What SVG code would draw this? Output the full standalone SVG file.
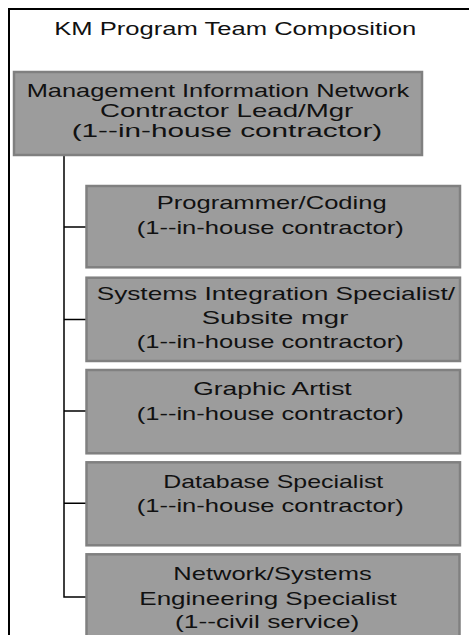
<svg xmlns="http://www.w3.org/2000/svg" width="469" height="635" viewBox="0 0 469 635">
<style>
.box{fill:#9c9c9c;stroke:#808080;stroke-width:2.5}
.t{font-family:"Liberation Sans",Arial,sans-serif;font-size:19px;fill:#111}
.title{font-family:"Liberation Sans",Arial,sans-serif;font-size:17.5px;fill:#111}
.frame{fill:none;stroke:#000;stroke-width:2}
.conn{fill:none;stroke:#000;stroke-width:1.5}
</style>
<rect width="469" height="635" fill="#fff"/>
<g id="frame">
<path class="frame" d="M9,635 V9 H469"/>
<text class="title" x="54.3" y="34.7" textLength="362" lengthAdjust="spacingAndGlyphs">KM Program Team Composition</text>
</g>
<g id="connectors">
<path class="conn" d="M64,155 V597 H86" stroke-width="2"/>
<path class="conn" d="M64,227 H86 M64,319.5 H86 M64,411 H86 M64,503.3 H86"/>
</g>
<g id="lead">
<rect class="box" x="14" y="72" width="408" height="83"/>
<text class="t" x="26.7" y="96.7" textLength="382.6" lengthAdjust="spacingAndGlyphs">Management Information Network</text>
<text class="t" x="100" y="116.7" textLength="253.3" lengthAdjust="spacingAndGlyphs">Contractor Lead/Mgr</text>
<text class="t" x="71.7" y="136.5" textLength="310.6" lengthAdjust="spacingAndGlyphs">(1--in-house contractor)</text>
</g>
<g id="programmer">
<rect class="box" x="86.5" y="186" width="373.5" height="81.3"/>
<text class="t" x="156.7" y="208.5" textLength="230" lengthAdjust="spacingAndGlyphs">Programmer/Coding</text>
<text class="t" x="136.7" y="234" textLength="267" lengthAdjust="spacingAndGlyphs">(1--in-house contractor)</text>
</g>
<g id="integration">
<rect class="box" x="86.5" y="277.7" width="373.5" height="83.3"/>
<text class="t" x="96.7" y="300" textLength="358.3" lengthAdjust="spacingAndGlyphs">Systems Integration Specialist/</text>
<text class="t" x="201.7" y="323.5" textLength="146.6" lengthAdjust="spacingAndGlyphs">Subsite mgr</text>
<text class="t" x="136.7" y="348" textLength="267" lengthAdjust="spacingAndGlyphs">(1--in-house contractor)</text>
</g>
<g id="graphic">
<rect class="box" x="86.5" y="370" width="373.5" height="83.3"/>
<text class="t" x="193.3" y="395" textLength="158.4" lengthAdjust="spacingAndGlyphs">Graphic Artist</text>
<text class="t" x="136.7" y="420" textLength="267" lengthAdjust="spacingAndGlyphs">(1--in-house contractor)</text>
</g>
<g id="database">
<rect class="box" x="86.5" y="462.3" width="373.5" height="83"/>
<text class="t" x="163.3" y="488" textLength="220" lengthAdjust="spacingAndGlyphs">Database Specialist</text>
<text class="t" x="136.7" y="512" textLength="267" lengthAdjust="spacingAndGlyphs">(1--in-house contractor)</text>
</g>
<g id="network">
<rect class="box" x="86.5" y="554.3" width="373" height="90"/>
<text class="t" x="173.3" y="580" textLength="198.4" lengthAdjust="spacingAndGlyphs">Network/Systems</text>
<text class="t" x="139.3" y="604.5" textLength="257.4" lengthAdjust="spacingAndGlyphs">Engineering Specialist</text>
<text class="t" x="175" y="627.5" textLength="184.3" lengthAdjust="spacingAndGlyphs">(1--civil service)</text>
</g>
</svg>
